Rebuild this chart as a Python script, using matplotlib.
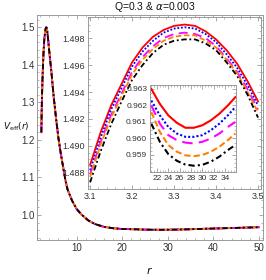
import matplotlib
matplotlib.use("Agg")
import matplotlib.pyplot as plt
from matplotlib.ticker import MultipleLocator, FixedLocator, FormatStrFormatter

plt.rcParams['font.family'] = ['Liberation Sans Narrow', 'Liberation Sans', 'DejaVu Sans']
plt.rcParams['mathtext.fontset'] = 'custom'
plt.rcParams['mathtext.rm'] = 'Liberation Sans Narrow'
plt.rcParams['mathtext.it'] = 'Liberation Sans Narrow:italic'

# main curve (all five series overlap at this scale)
r_main = [2.25, 2.35, 2.5, 2.7, 2.9, 3.1, 3.2, 3.32, 3.4, 3.5, 3.7, 4.0, 4.5, 5.0,
          5.5, 6.0, 6.5, 7.0, 7.5, 8.0, 9.0, 10.0, 11.0, 12.5, 14.0, 16.0, 18.0,
          20.0, 22.5, 25.5, 28.5, 31.5, 34.5, 40.0, 45.0, 50.0]
v_main = [1.22, 1.29, 1.36, 1.425, 1.468, 1.4886, 1.4962, 1.4990, 1.4984, 1.4933,
          1.472, 1.435, 1.375, 1.31, 1.255, 1.205, 1.165, 1.13, 1.095, 1.068,
          1.038, 1.016, 1.002, 0.986, 0.976, 0.9685, 0.9648, 0.9628, 0.9621,
          0.96095, 0.96065, 0.9611, 0.9620, 0.9640, 0.9657, 0.9675]

# zoom near the peak
r_peak = [3.100, 3.125, 3.150, 3.175, 3.200, 3.225, 3.250, 3.275, 3.300,
          3.325, 3.350, 3.375, 3.400, 3.425, 3.450, 3.475, 3.500]
peak_red = [1.4886, 1.4910, 1.4930, 1.4946, 1.4962, 1.4973, 1.4981, 1.4986, 1.4989,
            1.4990, 1.4989, 1.4985, 1.4979, 1.4971, 1.4961, 1.4948, 1.4933]
peak_blue = [1.4882, 1.4906, 1.4927, 1.4943, 1.4959, 1.4970, 1.4978, 1.4984, 1.4987,
             1.4988, 1.4987, 1.4983, 1.4977, 1.4968, 1.4958, 1.4945, 1.4930]
peak_magenta = [1.4879, 1.4903, 1.4923, 1.4939, 1.4955, 1.4966, 1.4974, 1.4980, 1.4983,
                1.4984, 1.4983, 1.4980, 1.4974, 1.4965, 1.4955, 1.4942, 1.4927]
peak_orange = [1.4877, 1.4901, 1.4921, 1.4937, 1.4953, 1.4964, 1.4972, 1.4978, 1.4981,
               1.4982, 1.4982, 1.4978, 1.4973, 1.4964, 1.4954, 1.4940, 1.4925]
peak_black = [1.4873, 1.4896, 1.4916, 1.4933, 1.4949, 1.4960, 1.4969, 1.4975, 1.4978,
              1.4979, 1.4979, 1.4976, 1.4971, 1.4962, 1.4952, 1.4938, 1.4921]
peak_yticks = [1.488, 1.490, 1.492, 1.494, 1.496, 1.498]

# zoom near the minimum
r_min = [21, 22.5, 24, 25.5, 27, 28.5, 30, 31.5, 33, 34.5, 35.8]
min_red = [0.9630, 0.9621, 0.9614, 0.96095, 0.96065, 0.96065, 0.9608, 0.9611, 0.9615, 0.9620, 0.9625]
min_blue = [0.9623, 0.9614, 0.9607, 0.9603, 0.9601, 0.9601, 0.9602, 0.9605, 0.9609, 0.9614, 0.9619]
min_magenta = [0.9620, 0.9609, 0.9602, 0.9599, 0.95975, 0.9597, 0.9598, 0.9600, 0.9603, 0.9607, 0.9610]
min_orange = [0.9616, 0.9604, 0.9596, 0.9592, 0.95898, 0.95893, 0.9590, 0.9592, 0.9595, 0.9599, 0.9603]
min_black = [0.9609, 0.9598, 0.95905, 0.95865, 0.95842, 0.95835, 0.9584, 0.9586, 0.9589, 0.9593, 0.9596]
min_yticks = [0.959, 0.960, 0.961, 0.962, 0.963]

styles = [
    dict(color='#ff0000', linestyle='-'),
    dict(color='#0000ff', linestyle=(0, (1, 1))),
    dict(color='#ff00ff', linestyle=(0, (5, 3))),
    dict(color='#ff8000', linestyle=(0, (3, 1.5))),
    dict(color='#000000', linestyle=(0, (3, 1.5, 1, 1.5))),
]
frame_col = '#9a9a9a'
text_col = '#333333'


def frame(ax, fs):
    for s in ax.spines.values():
        s.set_color(frame_col)
        s.set_linewidth(0.7)
    ax.tick_params(which='both', direction='in', top=True, right=True,
                   color=frame_col, labelcolor=text_col, labelsize=fs, pad=2)
    ax.tick_params(which='major', length=3, width=0.6)
    ax.tick_params(which='minor', length=1.6, width=0.5)


fig = plt.figure(figsize=(2.66, 2.80), dpi=100)

# main axes
ax = fig.add_axes([37/266, 40/280, 226/266, 225/280])
for st in styles:
    ax.plot(r_main, v_main, lw=1.3, **st)
ax.set_xlim(1.3, 50.9)
ax.set_ylim(0.9335, 1.532)
ax.xaxis.set_major_locator(MultipleLocator(10))
ax.xaxis.set_minor_locator(MultipleLocator(2))
ax.yaxis.set_major_locator(MultipleLocator(0.1))
ax.yaxis.set_minor_locator(MultipleLocator(0.02))
ax.yaxis.set_major_formatter(FormatStrFormatter('%.1f'))
frame(ax, 7)
fig.text(155/266, 1 - 7/280, r'Q=0.3 & $\alpha$=0.003', ha='center', va='center',
         fontsize=7.5, color='#111111')
fig.text(3/266, 1 - 127/280, r'$V_{\rm eff}(r)$', ha='left', va='center',
         fontsize=6.5, color='#111111')
fig.text(150/266, 1 - 270/280, r'$r$', ha='center', va='center',
         fontsize=8, color='#111111')

# inset near the peak
ax1 = fig.add_axes([88/266, 1 - 189/280, 173/266, 172/280])
ax1.set_facecolor('white')
for y, st in zip([peak_red, peak_blue, peak_magenta, peak_orange, peak_black], styles):
    ax1.plot(r_peak, y, lw=1.3, **st)
ax1.set_xlim(3.095, 3.507)
ax1.set_ylim(1.48681, 1.49956)
ax1.xaxis.set_major_locator(MultipleLocator(0.1))
ax1.xaxis.set_minor_locator(MultipleLocator(0.02))
ax1.yaxis.set_major_locator(FixedLocator(peak_yticks))
ax1.yaxis.set_minor_locator(MultipleLocator(0.0005))
ax1.xaxis.set_major_formatter(FormatStrFormatter('%.1f'))
ax1.yaxis.set_major_formatter(FormatStrFormatter('%.3f'))
frame(ax1, 6.5)

# inset near the minimum
ax2 = fig.add_axes([150/266, 1 - 172/280, 86/266, 87/280])
ax2.set_facecolor('white')
for y, st in zip([min_red, min_blue, min_magenta, min_orange, min_black], styles):
    ax2.plot(r_min, y, lw=1.5, **st)
ax2.set_xlim(20.77, 35.93)
ax2.set_ylim(0.95797, 0.96324)
ax2.xaxis.set_major_locator(MultipleLocator(2))
ax2.xaxis.set_minor_locator(MultipleLocator(0.5))
ax2.yaxis.set_major_locator(FixedLocator(min_yticks))
ax2.yaxis.set_minor_locator(MultipleLocator(0.00025))
ax2.yaxis.set_major_formatter(FormatStrFormatter('%.3f'))
frame(ax2, 6)

fig.savefig('out.png', dpi=100)
